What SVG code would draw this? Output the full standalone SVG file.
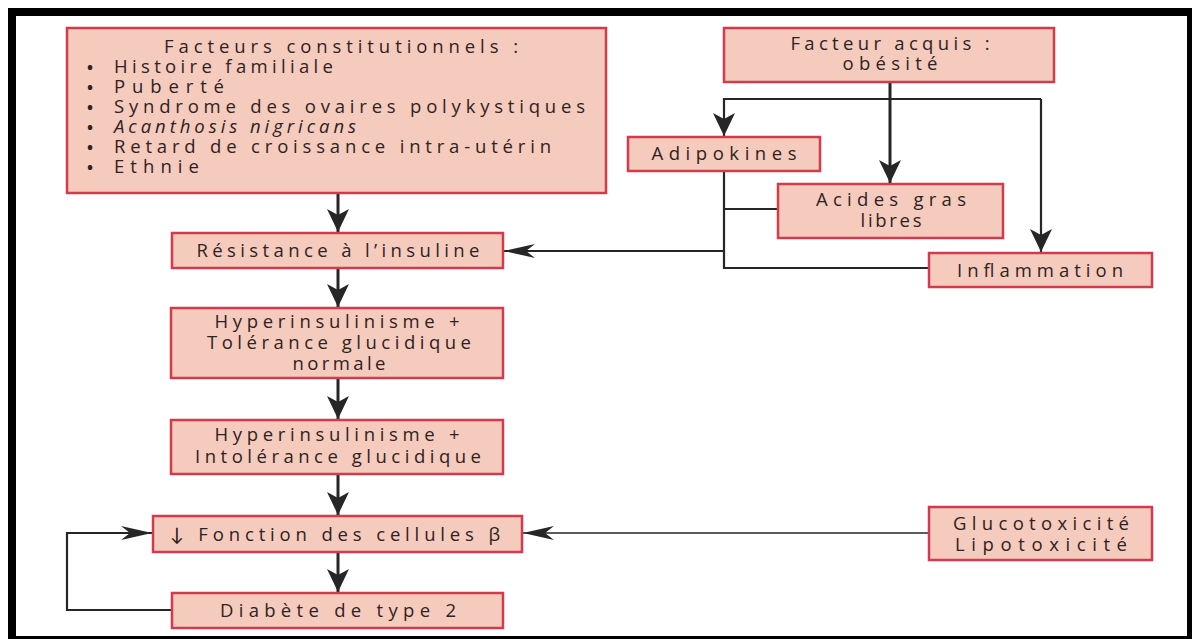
<svg xmlns="http://www.w3.org/2000/svg" width="1192" height="639" viewBox="0 0 1192 639">
<style>
.box{fill:#f5cbbd;stroke:#d23a4e;stroke-width:2.5}
text{font-family:"Open Sans",Lato,"DejaVu Sans",sans-serif;font-size:18.5px;font-weight:500;fill:#2f2222}
.c{text-anchor:middle}
.b{font-size:16px;font-weight:700}
.ln{fill:none;stroke:#262626;stroke-linejoin:miter}
.w3{stroke-width:3}
.w2{stroke-width:2.2}
.w1{stroke-width:1.5}
</style>
<defs>
<marker id="big" markerUnits="userSpaceOnUse" markerWidth="26" markerHeight="24" refX="23" refY="11" orient="auto">
<path d="M0,0 L23,11 L0,22 L6,11 Z" fill="#262626"/>
</marker>
<marker id="slim" markerUnits="userSpaceOnUse" markerWidth="34" markerHeight="16" refX="31" refY="7" orient="auto">
<path d="M0,0 L31,7 L0,14 L9,7 Z" fill="#262626"/>
</marker>
</defs>
<rect width="1192" height="639" fill="#ffffff"/>
<path d="M8,8 H1192 V639 H8 Z M16,16 V636 H1187 V16 Z" fill="#000" fill-rule="evenodd"/>

<g id="connectors">
<path class="ln w3" d="M338,193 V232" marker-end="url(#big)"/>
<path class="ln w3" d="M338,268 V307" marker-end="url(#big)"/>
<path class="ln w3" d="M338,378 V419" marker-end="url(#big)"/>
<path class="ln w3" d="M338,474 V515" marker-end="url(#big)"/>
<path class="ln w3" d="M338,552 V592" marker-end="url(#big)"/>
<path class="ln w3" d="M890,82 V183" marker-end="url(#big)"/>
<path class="ln w2" d="M1041,99 H724 V136" marker-end="url(#big)"/>
<path class="ln w2" d="M1041,99 V252" marker-end="url(#big)"/>
<path class="ln w2" d="M724,171 V268 H929"/>
<path class="ln w2" d="M724,209 H778"/>
<path class="ln w2" d="M724,251 H504" marker-end="url(#slim)"/>
<path class="ln w1" d="M929,533 H523" marker-end="url(#slim)"/>
<path class="ln w2" d="M172,610 H67 V533 H152" marker-end="url(#slim)"/>
</g>

<g id="facteurs">
<rect class="box" x="67" y="28" width="539" height="165"/>
<text class="c" x="341" y="53" textLength="354" lengthAdjust="spacing">Facteurs constitutionnels :</text>
<text y="73"><tspan class="b" x="87">•</tspan><tspan x="114" textLength="219" lengthAdjust="spacing">Histoire familiale</tspan></text>
<text y="93"><tspan class="b" x="87">•</tspan><tspan x="114" textLength="110" lengthAdjust="spacing">Puberté</tspan></text>
<text y="113"><tspan class="b" x="87">•</tspan><tspan x="114" textLength="471" lengthAdjust="spacing">Syndrome des ovaires polykystiques</tspan></text>
<text y="133"><tspan class="b" x="87">•</tspan><tspan x="114" textLength="242" lengthAdjust="spacing" font-style="italic">Acanthosis nigricans</tspan></text>
<text y="153"><tspan class="b" x="87">•</tspan><tspan x="114" textLength="437" lengthAdjust="spacing">Retard de croissance intra-utérin</tspan></text>
<text y="173"><tspan class="b" x="87">•</tspan><tspan x="114" textLength="85" lengthAdjust="spacing">Ethnie</tspan></text>
</g>

<g id="acquis">
<rect class="box" x="724" y="28" width="330" height="54"/>
<text class="c" x="890" y="50" textLength="199" lengthAdjust="spacing">Facteur acquis :</text>
<text class="c" x="890" y="70" textLength="95" lengthAdjust="spacing">obésité</text>
</g>

<g id="adipokines">
<rect class="box" x="628" y="137" width="192" height="34"/>
<text class="c" x="724" y="160" textLength="145" lengthAdjust="spacing">Adipokines</text>
</g>

<g id="acides">
<rect class="box" x="778" y="184" width="225" height="54"/>
<text class="c" x="891" y="206" textLength="150" lengthAdjust="spacing">Acides gras</text>
<text class="c" x="891" y="227" textLength="61" lengthAdjust="spacing">libres</text>
</g>

<g id="inflammation">
<rect class="box" x="929" y="253" width="223" height="34"/>
<text class="c" x="1040" y="277" textLength="166" lengthAdjust="spacing">Inflammation</text>
</g>

<g id="resistance">
<rect class="box" x="172" y="233" width="331" height="35"/>
<text class="c" x="338" y="257" textLength="283" lengthAdjust="spacing">Résistance à l’insuline</text>
</g>

<g id="hyper1">
<rect class="box" x="171" y="308" width="332" height="70"/>
<text class="c" x="337" y="328" textLength="245" lengthAdjust="spacing">Hyperinsulinisme +</text>
<text class="c" x="339" y="349" textLength="264" lengthAdjust="spacing">Tolérance glucidique</text>
<text class="c" x="339" y="370" textLength="93" lengthAdjust="spacing">normale</text>
</g>

<g id="hyper2">
<rect class="box" x="171" y="420" width="332" height="54"/>
<text class="c" x="337" y="441" textLength="245" lengthAdjust="spacing">Hyperinsulinisme +</text>
<text class="c" x="338" y="463" textLength="286" lengthAdjust="spacing">Intolérance glucidique</text>
</g>

<g id="fonction">
<rect class="box" x="153" y="516" width="369" height="36"/>
<text class="c" x="335" y="541" textLength="330" lengthAdjust="spacing">↓ Fonction des cellules β</text>
</g>

<g id="diabete">
<rect class="box" x="172" y="593" width="331" height="35"/>
<text class="c" x="338" y="617" textLength="236" lengthAdjust="spacing">Diabète de type 2</text>
</g>

<g id="glucotox">
<rect class="box" x="929" y="507" width="223" height="53"/>
<text class="c" x="1041" y="530" textLength="176" lengthAdjust="spacing">Glucotoxicité</text>
<text class="c" x="1041" y="551" textLength="172" lengthAdjust="spacing">Lipotoxicité</text>
</g>
</svg>
